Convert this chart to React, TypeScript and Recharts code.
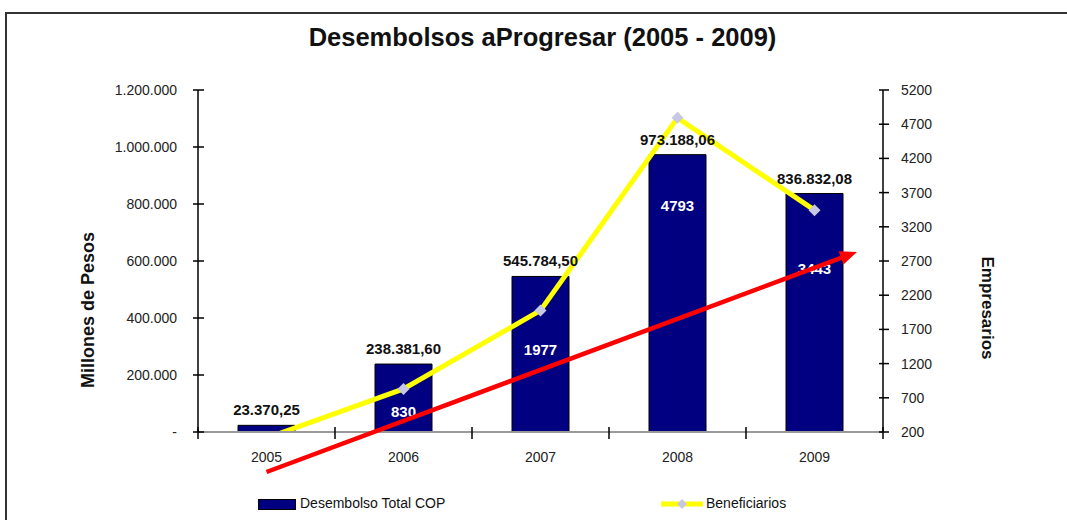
import React from 'react';
import {
  ComposedChart,
  Bar,
  Line,
  XAxis,
  YAxis,
  LabelList,
  Legend,
  ReferenceLine,
} from 'recharts';

const years = ['2005', '2006', '2007', '2008', '2009'];
const desembolsos = [23370.25, 238381.6, 545784.5, 973188.06, 836832.08];
const beneficiarios = [110, 830, 1977, 4793, 3443];
const leftTicks = [0, 200000, 400000, 600000, 800000, 1000000, 1200000];
const rightTicks = [200, 700, 1200, 1700, 2200, 2700, 3200, 3700, 4200, 4700, 5200];
// trend arrow: from 2005 to 2009 (right-axis values), extended past 2009
const trendYears = ['2005', '2009'];
const trendValues = [-385, 2601];
const trendExtension = 1.0775;

const data = years.map((y, i) => ({ year: y, des: desembolsos[i], ben: beneficiarios[i] }));

const labelOffsets = [0, 23, 40, 88, 59];

const FONT = '"Liberation Sans", Arial, sans-serif';

function groupThousands(s: string) {
  return s.replace(/\B(?=(\d{3})+(?!\d))/g, '.');
}
function fmtLeft(v: number) {
  if (v === 0) return '-';
  return groupThousands(String(Math.round(v)));
}
function fmtMoney(v: number) {
  const [i, d] = v.toFixed(2).split('.');
  return groupThousands(i) + ',' + d;
}

const LeftTick = (props: any) => {
  const { x, y, payload } = props;
  return (
    <g>
      <line x1={x - 5} x2={x + 6} y1={y} y2={y} stroke="#000" strokeWidth={1.5} />
      <text x={x - 21} y={y + 5} textAnchor="end" fontFamily={FONT} fontSize={14} fill="#222">
        {fmtLeft(payload.value)}
      </text>
    </g>
  );
};

const RightTick = (props: any) => {
  const { x, y, payload } = props;
  return (
    <g>
      <line x1={x - 4} x2={x + 6} y1={y} y2={y} stroke="#000" strokeWidth={1.5} />
      <text x={x + 18} y={y + 5} textAnchor="start" fontFamily={FONT} fontSize={14} fill="#222">
        {payload.value}
      </text>
    </g>
  );
};

const XTick = (props: any) => {
  const { x, y, payload, index, visibleTicksCount } = props;
  const half = payload && payload.offset ? payload.offset : 68.5;
  const last = index === visibleTicksCount - 1;
  return (
    <g>
      <line x1={x - half} x2={x - half} y1={y - 5} y2={y + 7} stroke="#000" strokeWidth={1.5} />
      {last && <line x1={x + half} x2={x + half} y1={y - 5} y2={y + 7} stroke="#000" strokeWidth={1.5} />}
      <text x={x} y={y + 30} textAnchor="middle" fontFamily={FONT} fontSize={14} fill="#222">
        {payload.value}
      </text>
    </g>
  );
};

const Diamond = (props: any) => {
  const { cx, cy } = props;
  if (cx == null || cy == null) return null;
  const r = 6;
  return (
    <path
      d={`M${cx},${cy - r} L${cx + r},${cy} L${cx},${cy + r} L${cx - r},${cy} Z`}
      fill="#C8C8E2"
      stroke="none"
    />
  );
};

const BenLabel = (props: any) => {
  const { x, y, value, index } = props;
  if (value < 200) return null;
  const off = labelOffsets[index] || 0;
  return (
    <text
      x={x}
      y={y + off + 5}
      textAnchor="middle"
      fontFamily={FONT}
      fontWeight="bold"
      fontSize={15}
      fill="#fff"
    >
      {value}
    </text>
  );
};

const ArrowShape = (props: any) => {
  const { x1, y1 } = props;
  const x2 = x1 + (props.x2 - x1) * trendExtension;
  const y2 = y1 + (props.y2 - y1) * trendExtension;
  const ang = Math.atan2(y2 - y1, x2 - x1);
  const len = 17;
  const hw = 7;
  const bx = x2 - len * Math.cos(ang);
  const by = y2 - len * Math.sin(ang);
  const px = -Math.sin(ang);
  const py = Math.cos(ang);
  return (
    <g>
      <line x1={x1} y1={y1} x2={bx} y2={by} stroke="#FF0000" strokeWidth={4.5} />
      <polygon
        points={`${x2},${y2} ${bx + px * hw},${by + py * hw} ${bx - px * hw},${by - py * hw}`}
        fill="#FF0000"
      />
    </g>
  );
};

const LegendContent = () => (
  <div style={{ position: 'relative', width: 1067, height: 30, fontFamily: FONT, fontSize: 14, color: '#111' }}>
    <div style={{ position: 'absolute', left: 258, top: 9, width: 36, height: 9, background: '#000080', border: '1px solid #000' }} />
    <div style={{ position: 'absolute', left: 300, top: 5, whiteSpace: 'nowrap' }}>Desembolso Total COP</div>
    <svg style={{ position: 'absolute', left: 660, top: 6 }} width={44} height={16}>
      <line x1={1} x2={43} y1={8} y2={8} stroke="#FFFF00" strokeWidth={5} />
      <path d="M22,3 L27,8 L22,13 L17,8 Z" fill="#C8C8E2" />
    </svg>
    <div style={{ position: 'absolute', left: 706, top: 5, whiteSpace: 'nowrap' }}>Beneficiarios</div>
  </div>
);

export default function App() {
  return (
    <div style={{ position: 'absolute', left: 0, top: 0, width: 1067, height: 520, background: '#fff', overflow: 'hidden' }}>
      <div
        style={{
          position: 'absolute',
          left: 5,
          top: 12,
          width: 1200,
          height: 700,
          borderLeft: '2px solid #333',
          borderTop: '2px solid #333',
        }}
      />
      <div
        style={{
          position: 'absolute',
          left: 0,
          top: 23,
          width: 1085,
          textAlign: 'center',
          fontFamily: FONT,
          fontWeight: 'bold',
          fontSize: 25.5,
          color: '#111',
          whiteSpace: 'nowrap',
        }}
      >
        Desembolsos aProgresar (2005 - 2009)
      </div>
      <div style={{ position: 'absolute', left: 0, top: 0 }}>
        <ComposedChart
          width={1067}
          height={520}
          data={data}
          margin={{ top: 90, right: 0, left: 0, bottom: 0 }}
        >
          <XAxis
            xAxisId="cat"
            dataKey="year"
            height={58}
            tickSize={0}
            tickMargin={0}
            tick={<XTick />}
            tickLine={false}
            axisLine={{ stroke: '#999', strokeWidth: 2 }}
          />
          <YAxis
            yAxisId="left"
            width={198}
            domain={[0, 1200000]}
            ticks={leftTicks}
            tickSize={0}
            tickMargin={0}
            tick={<LeftTick />}
            tickLine={false}
            axisLine={{ stroke: '#000', strokeWidth: 1.5 }}
            interval={0}
          />
          <YAxis
            yAxisId="right"
            orientation="right"
            width={184}
            domain={[200, 5200]}
            ticks={rightTicks}
            allowDataOverflow
            tickSize={0}
            tickMargin={0}
            tick={<RightTick />}
            tickLine={false}
            axisLine={{ stroke: '#000', strokeWidth: 1.5 }}
            interval={0}
          />
          <Legend verticalAlign="bottom" content={<LegendContent />} wrapperStyle={{ left: 0, bottom: 0, width: 1067, height: 30 }} />
          <Bar
            xAxisId="cat"
            yAxisId="left"
            dataKey="des"
            name="Desembolso Total COP"
            fill="#000080"
            stroke="#000"
            strokeWidth={1}
            barSize={57}
            isAnimationActive={false}
          >
            <LabelList
              dataKey="des"
              position="top"
              offset={10}
              formatter={(v: any) => fmtMoney(Number(v))}
              style={{ fontFamily: FONT, fontWeight: 'bold', fontSize: 15, fill: '#111' }}
            />
          </Bar>
          <Line
            xAxisId="cat"
            yAxisId="right"
            dataKey="ben"
            name="Beneficiarios"
            type="linear"
            stroke="#FFFF00"
            strokeWidth={5}
            dot={<Diamond />}
            activeDot={false}
            isAnimationActive={false}
          >
            <LabelList dataKey="ben" content={<BenLabel />} />
          </Line>
          <ReferenceLine
            xAxisId="cat"
            yAxisId="right"
            segment={[
              { x: trendYears[0], y: trendValues[0] },
              { x: trendYears[1], y: trendValues[1] },
            ]}
            ifOverflow="visible"
            shape={<ArrowShape />}
            {...({ zIndex: 2500 } as any)}
          />
        </ComposedChart>
      </div>
      <svg style={{ position: 'absolute', left: 0, top: 0 }} width={1067} height={520} pointerEvents="none">
        <text
          x={88}
          y={310}
          transform="rotate(-90 88 310)"
          textAnchor="middle"
          dominantBaseline="central"
          fontFamily={FONT}
          fontWeight="bold"
          fontSize={18}
          fill="#111"
        >
          Millones de Pesos
        </text>
        <text
          x={987}
          y={308}
          transform="rotate(90 987 308)"
          textAnchor="middle"
          dominantBaseline="central"
          fontFamily={FONT}
          fontWeight="bold"
          fontSize={17}
          fill="#111"
        >
          Empresarios
        </text>
      </svg>
    </div>
  );
}
